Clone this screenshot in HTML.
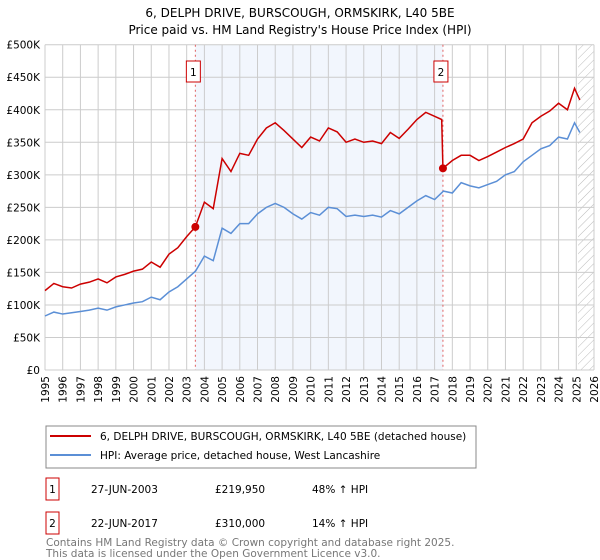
<!DOCTYPE html>
<html><head><meta charset="utf-8"><style>
body{margin:0;background:#fff;font-family:"Liberation Sans","DejaVu Sans",sans-serif;}
svg{display:block}
</style></head><body>
<svg id="chart" width="600" height="560" font-family="'DejaVu Sans','Liberation Sans',sans-serif">
<text x="300" y="17" text-anchor="middle" font-size="12">6, DELPH DRIVE, BURSCOUGH, ORMSKIRK, L40 5BE</text>
<text x="300" y="34" text-anchor="middle" font-size="12">Price paid vs. HM Land Registry's House Price Index (HPI)</text>
<g id="plot"></g>
<g>
<rect x="46" y="426" width="430" height="42" fill="#fff" stroke="#888"/>
<line x1="50" y1="436" x2="91" y2="436" stroke="#cc0000" stroke-width="2"/>
<text x="100" y="440" font-size="10.5">6, DELPH DRIVE, BURSCOUGH, ORMSKIRK, L40 5BE (detached house)</text>
<line x1="50" y1="455" x2="91" y2="455" stroke="#5b8fd6" stroke-width="2"/>
<text x="100" y="459" font-size="10.5">HPI: Average price, detached house, West Lancashire</text>
</g>
<g font-size="10.5">
<rect x="46" y="478" width="13" height="22" fill="#fff" stroke="#cc0000"/>
<text x="52.5" y="493" text-anchor="middle">1</text>
<text x="91" y="493">27-JUN-2003</text><text x="215" y="493">£219,950</text><text x="312" y="493">48% ↑ HPI</text>
<rect x="46" y="512" width="13" height="22" fill="#fff" stroke="#cc0000"/>
<text x="52.5" y="527" text-anchor="middle">2</text>
<text x="91" y="527">22-JUN-2017</text><text x="215" y="527">£310,000</text><text x="312" y="527">14% ↑ HPI</text>
</g>
<text x="46" y="546" font-size="10.5" fill="#777">Contains HM Land Registry data © Crown copyright and database right 2025.</text>
<text x="46" y="557" font-size="10.5" fill="#777">This data is licensed under the Open Government Licence v3.0.</text>
</svg>
<script>
const hpiYears=[1995,1995.5,1996,1996.5,1997,1997.5,1998,1998.5,1999,1999.5,2000,2000.5,2001,2001.5,2002,2002.5,2003,2003.5,2004,2004.5,2005,2005.5,2006,2006.5,2007,2007.5,2008,2008.5,2009,2009.5,2010,2010.5,2011,2011.5,2012,2012.5,2013,2013.5,2014,2014.5,2015,2015.5,2016,2016.5,2017,2017.5,2018,2018.5,2019,2019.5,2020,2020.5,2021,2021.5,2022,2022.5,2023,2023.5,2024,2024.5,2024.9,2025.2];
const hpiValues=[83,89,86,88,90,92,95,92,97,100,103,105,112,108,120,128,140,152,175,168,218,210,225,225,240,250,256,250,240,232,242,238,250,248,236,238,236,238,235,245,240,250,260,268,262,275,272,288,283,280,285,290,300,305,320,330,340,345,358,355,380,365];
const priceYears=[1995,1995.5,1996,1996.5,1997,1997.5,1998,1998.5,1999,1999.5,2000,2000.5,2001,2001.5,2002,2002.5,2003,2003.49,2004,2004.5,2005,2005.5,2006,2006.5,2007,2007.5,2008,2008.5,2009,2009.5,2010,2010.5,2011,2011.5,2012,2012.5,2013,2013.5,2014,2014.5,2015,2015.5,2016,2016.5,2017,2017.4,2017.47,2018,2018.5,2019,2019.5,2020,2020.5,2021,2021.5,2022,2022.5,2023,2023.5,2024,2024.5,2024.9,2025.2];
const priceValues=[122,133,128,126,132,135,140,134,143,147,152,155,166,158,178,188,205,220,258,248,325,305,333,330,355,372,380,368,355,342,358,352,372,366,350,355,350,352,348,365,356,370,385,396,390,385,310,322,330,330,322,328,335,342,348,355,380,390,398,410,400,433,415];
const saleYears=[2003.49,2017.47];
const saleValues=[219.95,310];
const saleLabels=["1","2"];
const yTicks=[0,50,100,150,200,250,300,350,400,450,500];
const yTickLabels=["£0","£50K","£100K","£150K","£200K","£250K","£300K","£350K","£400K","£450K","£500K"];
const xTicks=[];for(let y=1995;y<=2026;y++)xTicks.push(y);

const L=45,R=594,T=44.7,B=370,X0=1995,X1=2026;
const x=v=>L+(v-X0)/(X1-X0)*(R-L);
const y=v=>B-v/500*(B-T);
const NS="http://www.w3.org/2000/svg";
const g=document.getElementById('plot');
function mk(tag,attrs,parent){const e=document.createElementNS(NS,tag);for(const k in attrs)e.setAttribute(k,attrs[k]);(parent||g).appendChild(e);return e;}
let sh=mk('rect',{x:x(saleYears[0]),y:T,width:x(saleYears[1])-x(saleYears[0]),height:B-T,fill:'#f2f6fd'});


const defs=mk('defs',{});
const pat=mk('pattern',{id:'hatch',patternUnits:'userSpaceOnUse',width:6,height:6,patternTransform:'rotate(45)'},defs);
mk('line',{x1:0,y1:0,x2:0,y2:6,stroke:'#bbb','stroke-width':1},pat);
let hz=mk('rect',{x:x(2025.1),y:T,width:R-x(2025.1),height:B-T,fill:'url(#hatch)'});


xTicks.forEach((t,i)=>{
  let l=mk('line',{x1:x(t),x2:x(t),y1:T,y2:B,stroke:'#ccc','stroke-width':1});
  
  
  let tx=mk('text',{x:0,y:0,'font-size':10.5,'text-anchor':'end',transform:`translate(${x(t)+4},${B+6}) rotate(-90)`});
  tx.textContent=t;
  
  
});
yTicks.forEach((t,i)=>{
  let l=mk('line',{x1:L,x2:R,y1:y(t),y2:y(t),stroke:'#ccc','stroke-width':1});
  
  
  let tx=mk('text',{x:L-5,y:y(t)+4,'font-size':10.5,'text-anchor':'end'});
  tx.textContent=yTickLabels[i];
  
  
});
saleYears.forEach((s,i)=>{
  let l=mk('line',{x1:x(s),x2:x(s),y1:T,y2:B,stroke:'#e06060','stroke-width':1,'stroke-dasharray':'2,3'});
  
  
});
let hp=mk('polyline',{points:hpiYears.map((v,i)=>x(v)+','+y(hpiValues[i])).join(' '),fill:'none',stroke:'#5b8fd6','stroke-width':1.5});


let pp=mk('polyline',{points:priceYears.map((v,i)=>x(v)+','+y(priceValues[i])).join(' '),fill:'none',stroke:'#cc0000','stroke-width':1.5});


saleYears.forEach((s,i)=>{
  let c=mk('circle',{cx:x(s),cy:y(saleValues[i]),r:4,fill:'#cc0000'});
  
  
  let b=mk('rect',{x:x(s)-9,y:61,width:14,height:21,fill:'#fff',stroke:'#cc0000'});
  
  
  let t=mk('text',{x:x(s)-2,y:76,'font-size':10.5,'text-anchor':'middle'});
  t.textContent=saleLabels[i];
  
  
});
</script>
</body></html>
